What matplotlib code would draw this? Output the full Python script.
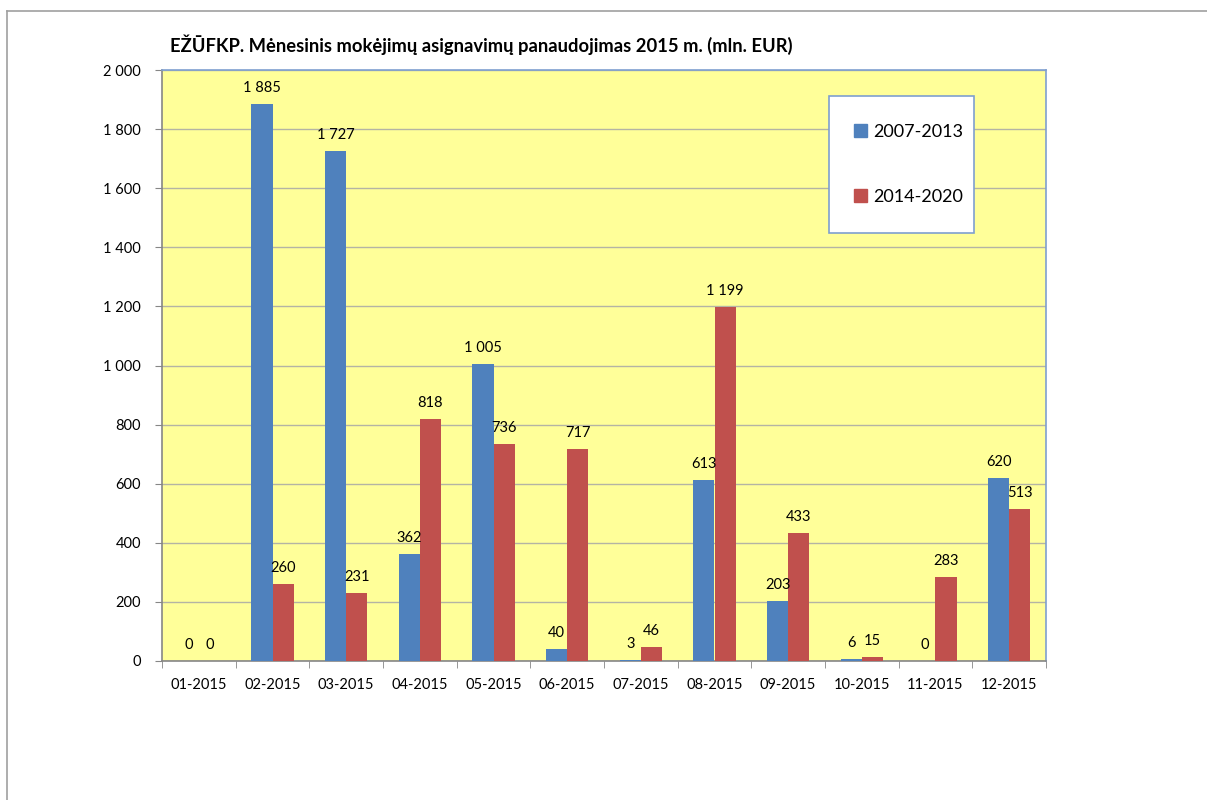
import numpy as np
import matplotlib.pyplot as plt
import matplotlib.patches as patches
from matplotlib.lines import Line2D

plt.rcParams['font.family'] = ['Lato', 'DejaVu Sans']

# data
months = ['01-2015', '02-2015', '03-2015', '04-2015', '05-2015', '06-2015',
          '07-2015', '08-2015', '09-2015', '10-2015', '11-2015', '12-2015']
p2007 = [0, 1885, 1727, 362, 1005, 40, 3, 613, 203, 6, 0, 620]
p2014 = [0, 260, 231, 818, 736, 717, 46, 1199, 433, 15, 283, 513]
series_names = ['2007-2013', '2014-2020']
title = 'EŽŪFKP. Mėnesinis mokėjimų asignavimų panaudojimas 2015 m. (mln. EUR)'

blue = '#4f81bd'
red = '#c0504d'

def fmt(v):
    return '{:,}'.format(int(v)).replace(',', ' ')

W, H = 1207, 800
fig = plt.figure(figsize=(W / 100, H / 100), dpi=100)

# outer chart border (only top/left visible in the crop)
fig.add_artist(Line2D([7 / W, 1], [1 - 11 / H, 1 - 11 / H], color='#a0a0a0', lw=1.2))
fig.add_artist(Line2D([7 / W, 7 / W], [0, 1 - 11 / H], color='#a0a0a0', lw=1.2))

ax = fig.add_axes([162 / W, 139 / H, 884 / W, 591 / H])
ax.set_facecolor('#ffff99')

x = np.arange(len(months))
bw = 1 / 3.5
b1 = ax.bar(x - bw / 2, p2007, bw, color=blue, zorder=3)
b2 = ax.bar(x + bw / 2, p2014, bw, color=red, zorder=3)

for bars, vals in ((b1, p2007), (b2, p2014)):
    for r, v in zip(bars, vals):
        ax.annotate(fmt(v), (r.get_x() + r.get_width() / 2, v),
                    xytext=(0, 11.5), textcoords='offset points',
                    ha='center', va='center', fontsize=10.5, zorder=5)

ax.set_xlim(-0.5, len(months) - 0.5)
ax.set_ylim(0, 2000)
ax.set_yticks(np.arange(0, 2001, 200))
ax.set_yticklabels([fmt(v) for v in np.arange(0, 2001, 200)], fontsize=10.5)
ax.set_xticks(x)
ax.set_xticklabels(months, fontsize=10.5)
ax.set_xticks(np.arange(-0.5, len(months)), minor=True)
ax.tick_params(axis='x', which='major', length=0, pad=12)
ax.tick_params(axis='x', which='minor', length=5, color='#868686', direction='out')
ax.tick_params(axis='y', length=5, color='#868686', direction='out', pad=10)

ax.grid(axis='y', color='#b4b4a4', lw=1, zorder=1)
for s in ax.spines.values():
    s.set_color('#7f9fcf')
    s.set_linewidth(1.2)
ax.spines['left'].set_color('#868686')
ax.spines['bottom'].set_color('#868686')

fig.text(170 / W, 1 - 45 / H, title, fontsize=13.2, fontweight='bold', va='center', ha='left')

# legend box
fig.add_artist(patches.Rectangle((829 / W, 1 - 233 / H), 145 / W, 137 / H,
                                 transform=fig.transFigure, facecolor='white',
                                 edgecolor='#7f9fcf', lw=1.2, zorder=10))
handles = [patches.Patch(color=blue), patches.Patch(color=red)]
leg = fig.legend(handles, series_names, loc='center left',
                 bbox_to_anchor=(845 / W, 1 - 164.5 / H), frameon=False,
                 fontsize=13, handlelength=0.7, handleheight=0.7,
                 handletextpad=0.35, labelspacing=2.7, borderpad=0)
leg.set_zorder(11)

fig.savefig('out.png', dpi=100)
